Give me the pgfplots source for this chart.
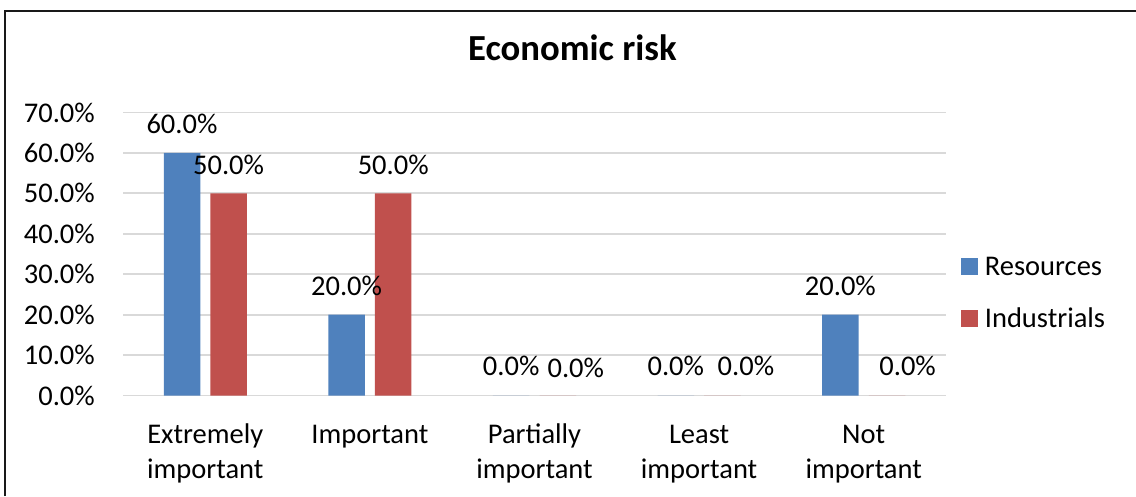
\documentclass[border=0pt]{standalone}
\usepackage{fontspec}
\setmainfont{Carlito}
\usepackage{pgfplots}
\usepackage{pgfplotstable}
\pgfplotsset{compat=1.18}

\definecolor{resblue}{RGB}{79,129,189}
\definecolor{indred}{RGB}{192,80,77}
\definecolor{gridgray}{RGB}{217,217,217}
\definecolor{framegray}{RGB}{25,25,25}

% share of answers per importance level; dx/dy nudge the value labels (pt)
\pgfplotstableread{
x y dx dy
0 60 0 19.5
1 20 0 19.5
2 0 0 20.5
3 0 0 20.5
4 20 0 19.5
}\resources
\pgfplotstableread{
x y dx dy
0 50 0 19
1 50 0 19
2 0 18 18
3 0 23.5 20.5
4 0 20.6 19.7
}\industrials

\newcommand\labelfont{\fontsize{28.5pt}{35pt}\selectfont}

\begin{document}
\begin{tikzpicture}
\useasboundingbox (0,0) rectangle (1136pt,496pt);
\draw[framegray, line width=2pt] (5pt,0pt) -- (5pt,484.5pt) -- (1136pt,484.5pt);
\begin{axis}[
  at={(123pt,100.5pt)}, anchor=south west,
  scale only axis, width=823pt, height=283pt,
  xmin=-0.5, xmax=4.5, ymin=0, ymax=70,
  clip=false,
  axis line style={draw=none},
  major tick length=0pt,
  ymajorgrids, grid style={gridgray, line width=1.8pt},
  /pgf/number format/assume math mode=true,
  ytick={0,10,...,70},
  yticklabel={\pgfmathprintnumber[fixed,fixed zerofill,precision=1]{\tick}\%},
  yticklabel style={font=\labelfont, anchor=east, inner sep=0pt, xshift=-28pt},
  xtick={0,...,4},
  xticklabels={{\strut Extremely\\important},{\strut Important},{\strut Partially\\important},
    {\strut Least\\important},{\strut Not\\important}},
  xticklabel style={font=\labelfont, align=center, anchor=north, inner sep=0pt,
    yshift=-23.5pt},
  ybar=10.1pt, bar width=36.5pt,
  legend image code/.code={\fill[#1,draw=none] (0pt,0pt) rectangle (16.7pt,16.7pt);},
  legend style={at={(axis description cs:1.0182,0.4965)}, anchor=north west,
    draw=none, fill=none, inner sep=0pt, row sep=26pt, column sep=7pt,
    font=\labelfont, cells={anchor=base west},
    nodes={inner sep=0pt, text height=20pt, text depth=6pt}},
  title={Economic risk},
  title style={at={(axis description cs:0.546,1.1618)}, anchor=base, inner sep=0pt,
    font=\bfseries\fontsize{36.7pt}{44pt}\selectfont},
  nodes near coords={\pgfmathprintnumber[fixed,fixed zerofill,precision=1]{\pgfplotspointmeta}\%},
]
\addplot[fill=resblue, draw=none,
  visualization depends on={\thisrow{dx} \as \dx},
  visualization depends on={\thisrow{dy} \as \dy},
  every node near coord/.append style={font=\labelfont, anchor=base, inner sep=0pt,
    xshift=\dx pt, yshift=\dy pt}]
  table[x=x, y=y] {\resources};
\addlegendentry{Resources}
\addplot[fill=indred, draw=none,
  visualization depends on={\thisrow{dx} \as \dx},
  visualization depends on={\thisrow{dy} \as \dy},
  every node near coord/.append style={font=\labelfont, anchor=base, inner sep=0pt,
    xshift=\dx pt, yshift=\dy pt}]
  table[x=x, y=y] {\industrials};
\addlegendentry{Industrials}
\end{axis}
\end{tikzpicture}
\end{document}
